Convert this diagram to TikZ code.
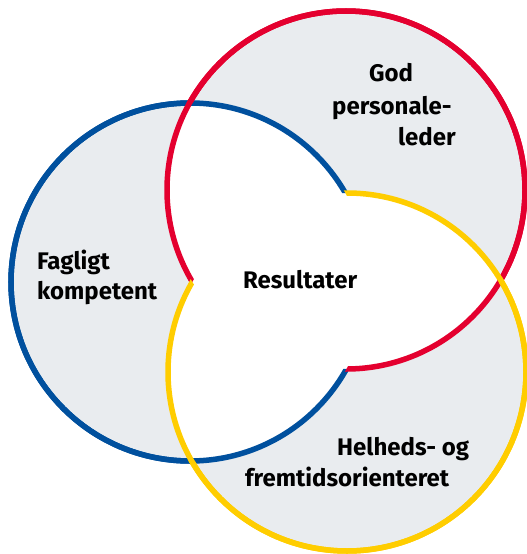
\documentclass[tikz,border=0pt]{standalone}
\usepackage{fontspec}
\setmainfont{Fira Sans}
\definecolor{vgrey}{HTML}{E9ECEF}
\definecolor{vblue}{HTML}{00509E}
\definecolor{vred}{HTML}{E4002F}
\definecolor{vyellow}{HTML}{FFCD00}
\tikzset{
  ring/.style={line width=5.5pt},
  lbl/.style={anchor=base west, inner sep=0pt, font=\fontsize{24pt}{28pt}\selectfont\bfseries},
}
\begin{document}
\begin{tikzpicture}[x=1pt,y=-1pt]
\useasboundingbox (0,0) rectangle (527,554);
\coordinate (B) at (190,282);
\coordinate (Rc) at (346,190);
\coordinate (Y) at (347,372);
\def\rad{179pt}
% grey discs
\fill[vgrey] (B) circle[radius=\rad];
\fill[vgrey] (Rc) circle[radius=\rad];
\fill[vgrey] (Y) circle[radius=\rad];
% white pairwise intersections
\begin{scope}
  \clip (B) circle[radius=\rad];
  \fill[white] (Rc) circle[radius=\rad];
  \fill[white] (Y) circle[radius=\rad];
\end{scope}
\begin{scope}
  \clip (Rc) circle[radius=\rad];
  \fill[white] (Y) circle[radius=\rad];
\end{scope}
% blue ring, hidden inside red and yellow overlap
\begin{scope}[even odd rule]
  \clip (-50,-50) rectangle (600,600) (Rc) circle[radius=\rad];
  \draw[ring, vblue] (B) circle[radius=\rad];
\end{scope}
\begin{scope}[even odd rule]
  \clip (-50,-50) rectangle (600,600) (Y) circle[radius=\rad];
  \draw[ring, vblue] (B) circle[radius=\rad];
\end{scope}
% red ring, hidden inside blue and yellow overlap
\begin{scope}[even odd rule]
  \clip (-50,-50) rectangle (600,600) (B) circle[radius=\rad];
  \draw[ring, vred] (Rc) circle[radius=\rad];
\end{scope}
\begin{scope}[even odd rule]
  \clip (-50,-50) rectangle (600,600) (Y) circle[radius=\rad];
  \draw[ring, vred] (Rc) circle[radius=\rad];
\end{scope}
% yellow ring, hidden inside blue and red overlap
\begin{scope}[even odd rule]
  \clip (-50,-50) rectangle (600,600) (B) circle[radius=\rad];
  \draw[ring, vyellow] (Y) circle[radius=\rad];
\end{scope}
\begin{scope}[even odd rule]
  \clip (-50,-50) rectangle (600,600) (Rc) circle[radius=\rad];
  \draw[ring, vyellow] (Y) circle[radius=\rad];
\end{scope}
% labels
\node[lbl] (god) at (369,81.5) {God};
\node[lbl] (pers) at (332,114) {personale-};
\node[lbl] (leder) at (398,145) {leder};
\node[lbl] (fag) at (37,269.5) {Fagligt};
\node[lbl] (komp) at (37,299.5) {kompetent};
\node[lbl] (res) at (243,288.3) {Resultater};
\node[lbl] (helh) at (337,455) {Helheds- og};
\node[lbl] (fremt) at (245,486.7) {fremtidsorienteret};
\end{tikzpicture}
\end{document}
